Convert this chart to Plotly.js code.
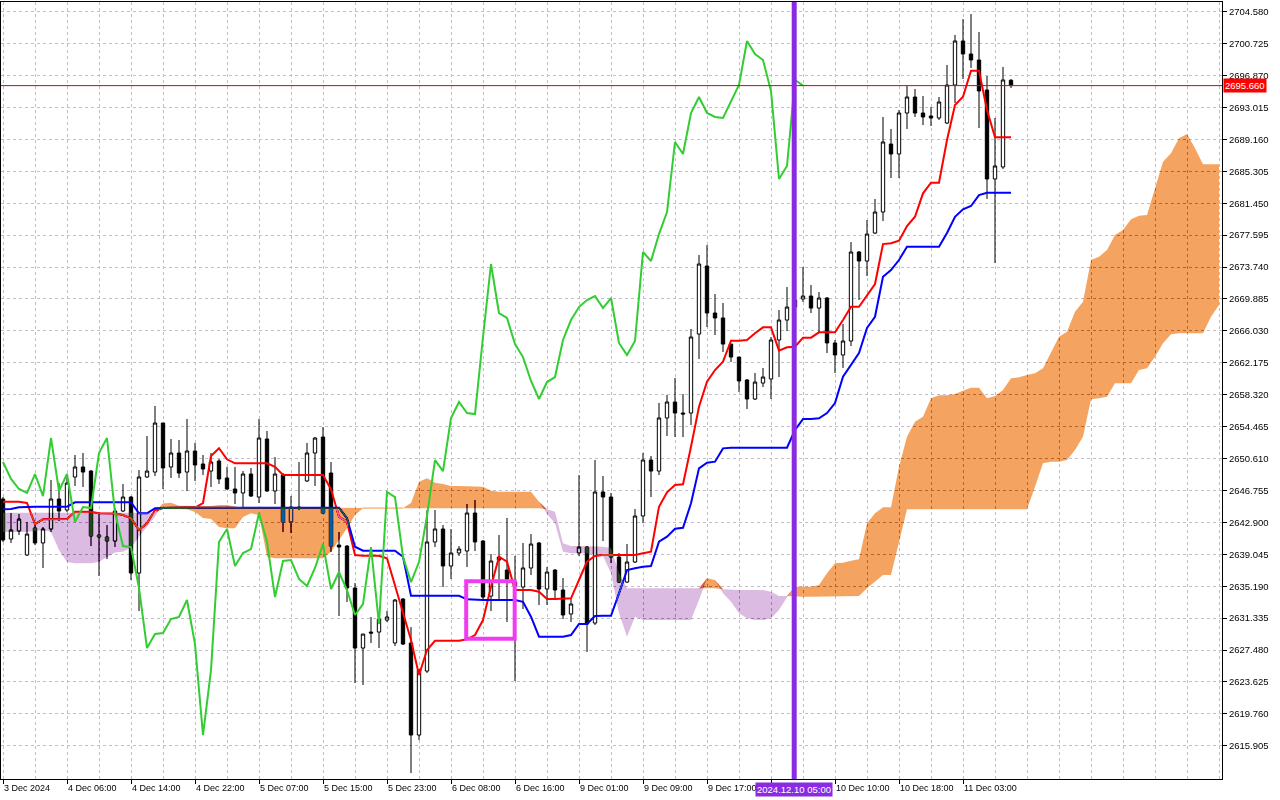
<!DOCTYPE html>
<html><head><meta charset="utf-8">
<script src="https://cdn.plot.ly/plotly-3.0.1.min.js"></script>
<style>html,body{margin:0;padding:0;background:#fff;overflow:hidden}#chart{width:1280px;height:800px}</style>
</head><body><div id="chart"></div>
<script>
// ---- tick labels (one every 8 H1 bars; the 10 Dec 02:00 one is hidden by the cursor label) ----
const labelBars = [0, 8, 16, 24, 32, 40, 48, 56, 64, 72, 80, 88, 96, 104, 112, 120];
const tickLabels = ["3 Dec 2024", "4 Dec 06:00", "4 Dec 14:00", "4 Dec 22:00", "5 Dec 07:00", "5 Dec 15:00",
  "5 Dec 23:00", "6 Dec 08:00", "6 Dec 16:00", "9 Dec 01:00", "9 Dec 09:00", "9 Dec 17:00", "",
  "10 Dec 10:00", "10 Dec 18:00", "11 Dec 03:00"];
const priceTicks = [2615.905, 2619.760, 2623.625, 2627.480, 2631.335, 2635.190, 2639.045, 2642.900, 2646.755,
  2650.610, 2654.465, 2658.320, 2662.175, 2666.030, 2669.885, 2673.740, 2677.595, 2681.450, 2685.305, 2689.160,
  2693.015, 2696.870, 2700.725, 2704.580];
const bidPrice = 2695.66;
const cursorLabel = "2024.12.10 05:00";
const cursorBar = 98.9;

// ---- OHLC (XAUUSD H1) ----
const opens = [2645.72,2640.89,2641.86,2638.96,2642.22,2640.41,2642.10,2645.72,2644.39,2648.38,
2649.59,2649.10,2641.37,2641.13,2640.65,2644.27,2645.96,2636.78,2648.38,2648.98,
2654.90,2649.59,2651.28,2648.98,2651.52,2649.95,2649.10,2650.31,2648.26,2646.93,
2646.45,2648.74,2645.96,2652.97,2646.69,2648.62,2642.94,2644.75,2647.90,2651.28,
2653.21,2648.86,2640.16,2640.04,2634.97,2627.72,2629.65,2629.65,2631.10,2628.33,
2633.64,2628.33,2617.21,2624.94,2640.53,2642.10,2637.63,2639.20,2639.44,2644.03,
2640.65,2634.00,2638.71,2637.14,2635.69,2635.09,2637.39,2640.41,2634.85,2637.14,
2634.73,2631.83,2639.20,2639.92,2630.74,2646.57,2645.96,2638.71,2635.69,2638.11,
2643.67,2650.43,2649.10,2655.51,2657.44,2656.11,2656.11,2665.65,2673.87,2668.19,
2667.59,2664.44,2662.87,2660.10,2657.80,2659.73,2660.22,2664.93,2667.34,2668.91,
2669.88,2670.24,2668.79,2670.00,2664.57,2663.12,2664.81,2675.56,2674.47,2677.85,
2680.39,2688.60,2687.40,2692.35,2694.28,2692.35,2691.99,2691.75,2691.14,2695.73,
2701.05,2699.48,2698.75,2695.13,2684.38,2685.83,2696.30];
const highs = [2645.96,2644.03,2643.91,2642.94,2642.82,2642.34,2648.02,2647.65,2648.62,2651.04,
2651.28,2649.22,2644.15,2642.58,2644.63,2647.53,2646.08,2649.22,2653.33,2656.96,
2654.90,2652.97,2652.85,2655.38,2652.49,2651.04,2651.28,2650.55,2649.59,2649.59,
2649.10,2649.47,2655.38,2653.94,2650.79,2648.86,2646.08,2650.19,2652.49,2653.21,
2654.42,2650.19,2641.73,2640.16,2635.57,2629.41,2631.47,2632.07,2632.19,2633.64,
2633.76,2630.26,2625.18,2644.39,2644.39,2642.58,2642.10,2640.04,2645.12,2645.60,
2640.77,2639.08,2641.37,2643.43,2638.84,2640.41,2641.49,2640.53,2637.51,2637.26,
2636.18,2633.64,2648.62,2640.04,2650.43,2648.50,2646.45,2639.20,2640.28,2644.51,
2651.28,2650.92,2657.32,2658.28,2660.34,2658.40,2666.26,2675.20,2676.40,2670.48,
2669.40,2664.44,2662.87,2660.22,2660.94,2661.55,2665.29,2668.55,2671.33,2670.97,
2673.75,2671.57,2670.73,2670.12,2664.93,2666.86,2676.77,2675.68,2679.42,2681.96,
2691.87,2690.42,2692.71,2695.61,2695.25,2694.40,2693.07,2694.28,2698.15,2701.77,
2703.70,2704.31,2702.13,2696.82,2691.75,2697.91,2696.46];
const lows = [2640.53,2640.41,2641.37,2638.84,2640.16,2637.39,2641.73,2643.06,2644.15,2647.29,
2647.17,2640.04,2636.42,2638.47,2639.92,2644.15,2635.94,2632.19,2648.26,2648.50,
2646.93,2648.26,2648.26,2646.69,2647.90,2648.62,2647.17,2647.53,2646.81,2645.12,
2644.51,2645.96,2645.24,2646.57,2645.12,2641.73,2641.61,2644.39,2647.77,2647.29,
2643.91,2639.32,2631.59,2633.28,2623.49,2623.25,2628.33,2627.72,2630.86,2627.96,
2628.08,2612.62,2616.61,2624.70,2639.92,2635.09,2636.06,2638.84,2637.51,2639.44,
2633.52,2632.19,2633.52,2630.86,2623.74,2632.43,2636.54,2632.92,2632.92,2633.52,
2631.22,2630.86,2638.84,2627.24,2630.50,2640.65,2637.99,2635.57,2635.57,2637.99,
2642.82,2645.96,2648.62,2653.33,2653.21,2653.21,2654.66,2662.63,2666.50,2665.53,
2663.48,2662.27,2658.65,2656.59,2657.68,2659.25,2657.80,2660.46,2666.02,2668.31,
2669.52,2668.19,2665.77,2663.36,2660.94,2661.55,2664.20,2669.76,2672.66,2677.73,
2679.30,2684.50,2684.50,2690.42,2691.87,2690.90,2690.78,2691.50,2691.02,2693.56,
2696.46,2697.79,2690.54,2681.96,2674.23,2685.58,2695.37];
const closes = [2640.77,2641.98,2643.30,2641.49,2640.41,2642.10,2645.72,2644.27,2647.65,2649.59,
2648.98,2641.25,2641.13,2640.65,2644.27,2645.96,2636.78,2648.38,2649.10,2654.90,
2649.47,2651.28,2648.86,2651.52,2649.83,2649.35,2650.19,2648.14,2646.93,2646.45,
2648.74,2646.08,2653.09,2646.69,2648.74,2642.94,2644.75,2644.63,2651.28,2653.09,
2644.03,2640.04,2639.92,2634.97,2627.72,2629.41,2629.53,2631.22,2631.47,2633.52,
2628.20,2617.21,2625.06,2640.53,2642.10,2637.63,2639.20,2639.68,2644.03,2640.53,
2633.88,2638.23,2638.35,2636.06,2635.21,2637.39,2640.28,2634.85,2636.90,2634.73,
2631.71,2633.04,2639.92,2630.62,2646.57,2645.96,2638.71,2635.69,2638.11,2643.67,
2650.43,2649.10,2655.51,2657.44,2656.11,2655.99,2665.29,2674.11,2668.19,2667.59,
2664.44,2662.87,2659.98,2657.80,2659.85,2660.46,2664.93,2667.34,2668.91,2669.76,
2670.24,2668.79,2670.00,2664.57,2663.12,2664.81,2675.56,2674.47,2677.73,2680.39,
2688.85,2687.40,2692.35,2694.28,2692.35,2691.87,2691.75,2693.68,2695.73,2701.05,
2699.48,2698.75,2695.01,2684.38,2685.95,2696.34,2695.66];

// ---- Ichimoku lines ----
const tenkan = [2645.39,2645.39,2645.39,2645.24,2642.70,2643.27,2643.27,2643.24,2643.30,2644.19,
2644.19,2644.19,2643.99,2643.99,2643.97,2643.79,2643.39,2641.98,2642.79,2644.39,
2644.63,2644.63,2644.63,2644.63,2644.69,2645.24,2650.92,2651.85,2650.52,2650.03,
2650.03,2650.03,2650.03,2650.03,2649.62,2648.62,2648.62,2648.62,2648.62,2648.62,
2648.62,2646.89,2643.58,2642.98,2638.96,2638.87,2638.87,2638.87,2638.56,2635.33,
2632.07,2628.69,2624.46,2627.48,2628.60,2628.60,2628.60,2628.60,2628.77,2629.29,
2631.10,2635.13,2638.75,2638.15,2634.73,2634.73,2634.73,2634.52,2633.64,2633.64,
2633.64,2633.73,2635.94,2638.15,2638.84,2638.96,2638.96,2638.96,2638.96,2638.96,
2639.16,2639.35,2644.79,2646.53,2647.41,2647.50,2652.04,2656.87,2659.89,2661.30,
2662.31,2664.84,2664.84,2664.93,2665.74,2666.46,2666.46,2663.64,2664.05,2664.12,
2665.21,2665.21,2665.86,2665.86,2665.86,2667.34,2668.95,2668.95,2670.36,2671.69,
2676.52,2676.61,2676.92,2678.70,2679.82,2682.65,2683.93,2683.93,2689.09,2693.32,
2694.32,2697.46,2697.46,2692.71,2689.41,2689.41,2689.41];
const kijun = [2644.48,2644.51,2644.72,2644.79,2644.79,2644.79,2644.79,2644.79,2644.79,2645.32,
2645.32,2645.32,2645.32,2645.32,2645.32,2645.32,2645.32,2643.99,2643.99,2644.60,
2644.67,2644.67,2644.67,2644.67,2644.67,2644.67,2644.67,2644.67,2644.67,2644.67,
2644.67,2644.67,2644.67,2644.67,2644.67,2644.67,2644.67,2644.67,2644.67,2644.67,
2644.67,2644.67,2644.67,2643.39,2639.96,2639.48,2639.48,2639.48,2639.48,2639.48,
2638.75,2634.04,2634.04,2634.04,2634.04,2634.04,2634.04,2634.04,2633.60,2633.52,
2633.52,2633.52,2633.52,2633.52,2633.52,2633.31,2631.50,2629.09,2629.09,2629.09,
2629.09,2629.29,2630.62,2630.62,2631.59,2631.62,2631.62,2634.33,2637.14,2637.35,
2637.54,2637.63,2640.56,2641.17,2642.13,2642.25,2645.20,2649.43,2650.10,2650.23,
2651.84,2651.92,2651.92,2651.92,2651.92,2651.92,2651.92,2651.92,2651.92,2654.06,
2655.38,2655.38,2655.47,2656.11,2657.32,2660.49,2661.91,2663.36,2666.38,2667.74,
2672.57,2673.38,2674.59,2676.20,2676.20,2676.20,2676.20,2676.20,2677.85,2679.82,
2680.72,2681.12,2682.44,2682.72,2682.72,2682.72,2682.72];
// Senkou spans (cloud), incl. the 26 projected bars
const spanA = [2641.73,2641.73,2641.73,2641.73,2641.86,2641.98,2641.73,2639.56,2638.11,2637.95,
2637.95,2637.95,2638.15,2638.69,2639.25,2639.35,2639.87,2641.17,2642.37,2643.58,
2645.18,2645.27,2644.91,2644.88,2644.88,2644.88,2644.88,2645.00,2645.00,2644.81,
2644.69,2644.69,2644.69,2644.69,2644.69,2644.69,2644.69,2644.69,2644.69,2644.69,
2644.69,2644.69,2644.69,2644.69,2644.69,2644.63,2644.63,2644.63,2644.63,2644.63,
2644.63,2645.24,2647.81,2648.22,2647.69,2647.53,2647.29,2647.29,2647.29,2647.29,
2647.21,2646.72,2646.60,2646.60,2646.60,2646.60,2646.60,2645.39,2643.91,2642.79,
2639.35,2639.16,2639.16,2639.16,2638.96,2638.84,2636.74,2631.95,2629.09,2631.50,
2631.10,2631.10,2631.10,2631.10,2631.10,2631.10,2631.10,2633.52,2636.14,2635.94,
2634.33,2633.31,2631.91,2631.31,2631.10,2631.10,2631.31,2632.31,2633.85,2635.13,
2635.13,2635.13,2635.33,2636.74,2637.95,2638.03,2638.27,2638.44,2642.79,2643.99,
2644.72,2644.72,2649.62,2653.25,2655.06,2655.66,2657.89,2658.25,2658.25,2658.40,
2658.80,2659.17,2659.17,2657.89,2658.16,2658.89,2660.30,2660.42,2660.70,2660.91,
2661.51,2663.52,2665.33,2665.93,2668.35,2669.55,2674.59,2674.99,2675.80,2677.61,
2678.22,2679.51,2679.94,2680.03,2683.25,2686.47,2687.48,2689.29,2689.81,2688.09,
2686.15,2686.15,2686.15];
const spanB = [2644.07,2644.07,2644.07,2644.07,2644.07,2644.07,2644.07,2644.07,2644.07,2644.07,
2644.07,2644.07,2644.07,2644.07,2644.07,2644.07,2644.07,2644.07,2644.07,2644.07,
2644.51,2644.51,2644.51,2644.48,2644.15,2643.43,2643.30,2642.34,2642.18,2642.18,
2643.55,2643.99,2643.79,2638.75,2638.56,2638.56,2638.56,2638.56,2638.56,2638.56,
2638.56,2639.35,2640.77,2642.18,2643.79,2644.60,2644.60,2644.60,2644.60,2644.60,
2644.60,2644.60,2644.60,2644.60,2644.60,2644.60,2644.60,2644.60,2644.60,2644.60,
2644.60,2644.60,2644.60,2644.60,2644.60,2644.60,2644.60,2644.60,2644.48,2644.19,
2640.37,2640.04,2640.04,2639.96,2639.96,2639.96,2639.80,2636.74,2634.93,2634.93,
2634.93,2634.93,2634.93,2634.93,2634.93,2634.93,2634.93,2634.93,2634.93,2634.93,
2634.81,2634.73,2634.73,2634.73,2634.73,2634.73,2634.52,2634.00,2634.00,2633.92,
2633.92,2633.92,2633.92,2633.92,2633.92,2633.92,2633.92,2634.00,2634.93,2635.73,
2636.54,2636.54,2640.37,2644.48,2644.48,2644.48,2644.48,2644.48,2644.48,2644.48,
2644.48,2644.48,2644.48,2644.48,2644.48,2644.48,2644.48,2644.48,2644.48,2647.21,
2650.03,2650.23,2650.23,2650.43,2651.64,2653.25,2657.76,2657.89,2658.08,2659.70,
2659.70,2659.70,2661.30,2661.51,2662.91,2664.53,2665.62,2665.74,2665.74,2665.74,
2665.74,2667.74,2669.16];

// ---- derived series ----
const bars = opens.map((_, i) => i);
const cloudBars = spanA.map((_, i) => i);
const chikouShift = 26;
const chikouY = closes.slice(chikouShift);
const chikouX = chikouY.map((_, i) => i);
const cloudTop = spanA.map((a, i) => Math.max(a, spanB[i]));
const thinA = spanA.map((a, i) => (a >= spanB[i] && a - spanB[i] < 0.25) ? a : null);

const line0 = {width: 0};
const data = [
  {type: 'candlestick', x: bars, open: opens, high: highs, low: lows, close: closes,
   increasing: {line: {color: '#000000', width: 1}, fillcolor: '#ffffff'},
   decreasing: {line: {color: '#000000', width: 1}, fillcolor: '#000000'},
   whiskerwidth: 0, hoverinfo: 'skip', showlegend: false},
  {type: 'scatter', mode: 'lines', x: bars, y: tenkan, line: {color: '#ff0000', width: 2}, hoverinfo: 'skip', showlegend: false},
  {type: 'scatter', mode: 'lines', x: bars, y: kijun, line: {color: '#0000ff', width: 2}, hoverinfo: 'skip', showlegend: false},
  // bullish cloud (Span A above Span B)
  {type: 'scatter', mode: 'lines', x: cloudBars, y: spanB, line: line0, hoverinfo: 'skip', showlegend: false},
  {type: 'scatter', mode: 'lines', x: cloudBars, y: cloudTop, line: line0, fill: 'tonexty', fillcolor: 'rgb(11,91,159)', hoverinfo: 'skip', showlegend: false},
  // bearish cloud (Span B above Span A)
  {type: 'scatter', mode: 'lines', x: cloudBars, y: spanA, line: line0, hoverinfo: 'skip', showlegend: false},
  {type: 'scatter', mode: 'lines', x: cloudBars, y: cloudTop, line: line0, fill: 'tonexty', fillcolor: 'rgb(36,68,30)', hoverinfo: 'skip', showlegend: false},
  {type: 'scatter', mode: 'lines', x: cloudBars, y: thinA, line: {color: '#f4a460', width: 1}, connectgaps: false, hoverinfo: 'skip', showlegend: false},
  {type: 'scatter', mode: 'lines', x: chikouX, y: chikouY, line: {color: '#32cd32', width: 2}, hoverinfo: 'skip', showlegend: false}
];

const gridCol = '#c2bccb';
const tickFont = {family: 'Liberation Sans, Arial, sans-serif', size: 9.5, color: '#000'};
const layout = {
  width: 1280, height: 800,
  margin: {l: 1, r: 58, t: 2, b: 21, pad: 0},
  paper_bgcolor: '#ffffff', plot_bgcolor: '#ffffff',
  showlegend: false, boxgap: 0.4, dragmode: false,
  xaxis: {
    type: 'linear', range: [-0.25, 152.375], rangeslider: {visible: false},
    tickmode: 'array', tickvals: labelBars, ticktext: tickLabels,
    ticks: 'outside', ticklen: 4, tickcolor: '#000', tickwidth: 1,
    ticklabelposition: 'outside right', tickfont: {family: 'Liberation Sans, Arial, sans-serif', size: 9, color: '#000'},
    showgrid: true, gridcolor: gridCol, griddash: '3px,3px', gridwidth: 1,
    minor: {tickmode: 'linear', tick0: 0, dtick: 4, showgrid: true, gridcolor: gridCol, griddash: '3px,3px', ticks: ''},
    showline: true, linecolor: '#000', linewidth: 1, mirror: true, zeroline: false, fixedrange: true
  },
  yaxis: {
    side: 'right', range: [2611.90, 2705.76],
    tickmode: 'array', tickvals: priceTicks, ticktext: priceTicks.map(v => v.toFixed(3)),
    ticks: 'outside', ticklen: 4, tickcolor: '#000', tickwidth: 1, tickfont: tickFont,
    showgrid: true, gridcolor: gridCol, griddash: '3px,3px', gridwidth: 1,
    showline: true, linecolor: '#000', linewidth: 1, mirror: true, zeroline: false, fixedrange: true
  },
  shapes: [
    {type: 'line', xref: 'paper', yref: 'y', x0: 0, x1: 1, y0: bidPrice, y1: bidPrice, line: {color: '#e00000', width: 1}, layer: 'above'},
    {type: 'line', xref: 'x', yref: 'paper', x0: cursorBar, x1: cursorBar, y0: 0, y1: 1, line: {color: '#8a2be2', width: 5}, layer: 'above'},
    {type: 'rect', xref: 'x', yref: 'y', x0: 57.9, x1: 63.96, y0: 2628.83, y1: 2635.78, line: {color: '#f03cf0', width: 4}, fillcolor: 'rgba(0,0,0,0)', layer: 'above'}
  ],
  annotations: [
    {xref: 'paper', yref: 'y', x: 1, y: bidPrice, xanchor: 'left', yanchor: 'middle', xshift: 1, text: bidPrice.toFixed(3),
     showarrow: false, bgcolor: '#ff0000', borderpad: 1, font: {family: 'Liberation Sans, Arial, sans-serif', size: 9.5, color: '#ffffff'}},
    {xref: 'x', yref: 'paper', x: cursorBar, y: 0, xanchor: 'center', yanchor: 'top', yshift: -3, text: cursorLabel,
     showarrow: false, bgcolor: '#8a2be2', borderpad: 1, font: {family: 'Liberation Sans, Arial, sans-serif', size: 9.5, color: '#ffffff'}}
  ]
};

Plotly.newPlot('chart', data, layout, {staticPlot: true, displayModeBar: false}).then(gd => {
  gd.querySelectorAll('.cartesianlayer [clip-path]').forEach(el => el.removeAttribute('clip-path'));
  gd.querySelectorAll('.scatterlayer path.js-fill').forEach(p => { p.style.mixBlendMode = 'difference'; });
});
</script>
</body></html>
